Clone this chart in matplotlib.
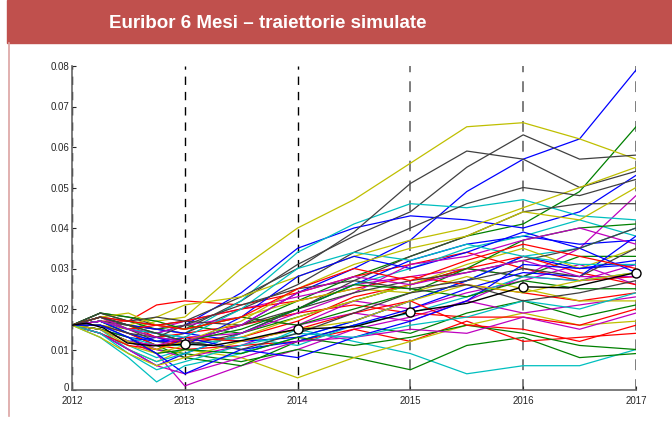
import matplotlib.pyplot as plt
from matplotlib.patches import Rectangle
from matplotlib.lines import Line2D
from matplotlib.transforms import ScaledTranslation

plt.rcParams['font.family'] = ['Liberation Sans', 'DejaVu Sans']

# time grid of the sampled paths (years)
t = [2012, 2012.25, 2012.5, 2012.75, 2013, 2013.5, 2014, 2014.5, 2015, 2015.5, 2016, 2016.5, 2017]

blue_paths = [
    [0.016, 0.015, 0.013, 0.012, 0.012, 0.016, 0.024, 0.030, 0.037, 0.049, 0.057, 0.062, 0.079],
    [0.016, 0.017, 0.015, 0.014, 0.016, 0.024, 0.035, 0.040, 0.043, 0.042, 0.040, 0.044, 0.053],
    [0.016, 0.014, 0.010, 0.006, 0.009, 0.014, 0.020, 0.026, 0.032, 0.036, 0.038, 0.036, 0.037],
    [0.016, 0.018, 0.016, 0.015, 0.014, 0.012, 0.013, 0.017, 0.022, 0.027, 0.033, 0.030, 0.031],
    [0.016, 0.015, 0.012, 0.013, 0.011, 0.018, 0.028, 0.033, 0.030, 0.034, 0.039, 0.035, 0.029],
    [0.016, 0.017, 0.014, 0.012, 0.013, 0.010, 0.012, 0.016, 0.020, 0.025, 0.029, 0.028, 0.038],
    [0.016, 0.016, 0.013, 0.009, 0.004, 0.010, 0.008, 0.013, 0.017, 0.022, 0.031, 0.030, 0.032],
]
green_paths = [
    [0.016, 0.018, 0.015, 0.013, 0.012, 0.016, 0.022, 0.028, 0.033, 0.038, 0.041, 0.049, 0.065],
    [0.016, 0.015, 0.012, 0.010, 0.009, 0.007, 0.010, 0.008, 0.005, 0.011, 0.013, 0.008, 0.009],
    [0.016, 0.019, 0.017, 0.015, 0.016, 0.014, 0.018, 0.022, 0.026, 0.030, 0.028, 0.033, 0.033],
    [0.016, 0.017, 0.014, 0.011, 0.008, 0.006, 0.012, 0.016, 0.014, 0.019, 0.022, 0.018, 0.021],
    [0.016, 0.019, 0.018, 0.017, 0.015, 0.018, 0.016, 0.020, 0.024, 0.030, 0.037, 0.040, 0.041],
    [0.016, 0.015, 0.013, 0.009, 0.010, 0.009, 0.013, 0.011, 0.013, 0.016, 0.014, 0.011, 0.010],
    [0.016, 0.018, 0.016, 0.014, 0.012, 0.015, 0.020, 0.026, 0.025, 0.023, 0.027, 0.025, 0.025],
]
red_paths = [
    [0.016, 0.017, 0.017, 0.021, 0.022, 0.021, 0.024, 0.028, 0.031, 0.034, 0.030, 0.027, 0.028],
    [0.016, 0.015, 0.012, 0.011, 0.010, 0.011, 0.012, 0.015, 0.012, 0.017, 0.012, 0.013, 0.014],
    [0.016, 0.018, 0.016, 0.013, 0.014, 0.016, 0.019, 0.021, 0.019, 0.018, 0.018, 0.016, 0.020],
    [0.016, 0.016, 0.014, 0.011, 0.012, 0.013, 0.017, 0.023, 0.026, 0.030, 0.033, 0.029, 0.026],
    [0.016, 0.017, 0.015, 0.016, 0.017, 0.020, 0.022, 0.025, 0.028, 0.026, 0.024, 0.022, 0.024],
    [0.016, 0.014, 0.011, 0.010, 0.013, 0.012, 0.015, 0.019, 0.022, 0.016, 0.015, 0.012, 0.016],
    [0.016, 0.018, 0.017, 0.016, 0.015, 0.018, 0.025, 0.030, 0.027, 0.032, 0.036, 0.033, 0.030],
]
cyan_paths = [
    [0.016, 0.014, 0.011, 0.008, 0.010, 0.009, 0.015, 0.012, 0.009, 0.004, 0.006, 0.006, 0.010],
    [0.016, 0.017, 0.014, 0.012, 0.014, 0.022, 0.034, 0.041, 0.046, 0.045, 0.047, 0.043, 0.042],
    [0.016, 0.013, 0.008, 0.002, 0.006, 0.009, 0.013, 0.017, 0.022, 0.027, 0.033, 0.035, 0.040],
    [0.016, 0.015, 0.010, 0.007, 0.009, 0.014, 0.020, 0.026, 0.030, 0.035, 0.038, 0.042, 0.038],
    [0.016, 0.016, 0.013, 0.011, 0.011, 0.013, 0.011, 0.016, 0.019, 0.023, 0.028, 0.027, 0.029],
    [0.016, 0.017, 0.015, 0.014, 0.013, 0.020, 0.030, 0.034, 0.032, 0.036, 0.033, 0.031, 0.031],
    [0.016, 0.014, 0.009, 0.005, 0.007, 0.011, 0.014, 0.013, 0.016, 0.018, 0.022, 0.020, 0.024],
]
magenta_paths = [
    [0.016, 0.015, 0.012, 0.009, 0.001, 0.006, 0.010, 0.015, 0.018, 0.022, 0.028, 0.035, 0.048],
    [0.016, 0.017, 0.016, 0.015, 0.017, 0.020, 0.023, 0.026, 0.028, 0.030, 0.028, 0.027, 0.031],
    [0.016, 0.016, 0.013, 0.010, 0.008, 0.011, 0.016, 0.022, 0.020, 0.024, 0.027, 0.031, 0.026],
    [0.016, 0.018, 0.015, 0.014, 0.016, 0.018, 0.016, 0.019, 0.017, 0.022, 0.019, 0.021, 0.023],
    [0.016, 0.015, 0.012, 0.011, 0.013, 0.014, 0.019, 0.024, 0.031, 0.033, 0.037, 0.040, 0.036],
    [0.016, 0.014, 0.010, 0.006, 0.004, 0.008, 0.012, 0.013, 0.015, 0.014, 0.018, 0.015, 0.019],
    [0.016, 0.017, 0.015, 0.013, 0.012, 0.016, 0.024, 0.028, 0.026, 0.029, 0.032, 0.028, 0.028],
]
yellow_paths = [
    [0.016, 0.016, 0.015, 0.017, 0.018, 0.030, 0.040, 0.047, 0.056, 0.065, 0.066, 0.062, 0.057],
    [0.016, 0.014, 0.010, 0.007, 0.010, 0.008, 0.003, 0.008, 0.012, 0.016, 0.019, 0.016, 0.017],
    [0.016, 0.017, 0.016, 0.018, 0.021, 0.023, 0.028, 0.033, 0.037, 0.040, 0.045, 0.050, 0.055],
    [0.016, 0.015, 0.011, 0.009, 0.011, 0.013, 0.018, 0.022, 0.026, 0.031, 0.035, 0.030, 0.035],
    [0.016, 0.018, 0.019, 0.016, 0.015, 0.018, 0.022, 0.025, 0.024, 0.028, 0.025, 0.022, 0.022],
    [0.016, 0.015, 0.012, 0.010, 0.012, 0.017, 0.025, 0.031, 0.035, 0.038, 0.044, 0.042, 0.050],
    [0.016, 0.013, 0.009, 0.006, 0.008, 0.012, 0.015, 0.017, 0.022, 0.026, 0.024, 0.027, 0.029],
]
gray_paths = [
    [0.016, 0.018, 0.017, 0.016, 0.015, 0.022, 0.031, 0.038, 0.044, 0.055, 0.063, 0.057, 0.058],
    [0.016, 0.019, 0.018, 0.016, 0.017, 0.023, 0.030, 0.039, 0.051, 0.059, 0.057, 0.050, 0.054],
    [0.016, 0.017, 0.016, 0.015, 0.014, 0.020, 0.026, 0.034, 0.040, 0.046, 0.050, 0.048, 0.052],
    [0.016, 0.017, 0.015, 0.012, 0.011, 0.014, 0.020, 0.027, 0.033, 0.038, 0.044, 0.046, 0.046],
    [0.016, 0.019, 0.017, 0.018, 0.017, 0.016, 0.020, 0.024, 0.027, 0.029, 0.032, 0.035, 0.040],
    [0.016, 0.016, 0.014, 0.013, 0.016, 0.021, 0.025, 0.027, 0.025, 0.027, 0.030, 0.028, 0.035],
    [0.016, 0.018, 0.016, 0.014, 0.012, 0.010, 0.014, 0.019, 0.024, 0.026, 0.022, 0.024, 0.027],
]

# forward curve and its yearly points
curve_t = [2012, 2012.13, 2012.28, 2012.49, 2012.72, 2013, 2013.25, 2013.52, 2013.76, 2014,
           2014.5, 2015, 2015.5, 2016, 2016.4, 2017]
curve_v = [0.0160, 0.0165, 0.0153, 0.0116, 0.0109, 0.0113, 0.0110, 0.0123, 0.0138, 0.0150,
           0.0156, 0.0193, 0.0214, 0.0255, 0.0252, 0.0290]
year_ticks = [2012, 2013, 2014, 2015, 2016, 2017]
marker_years = [2013, 2014, 2015, 2016, 2017]
marker_vals = [0.0113, 0.0150, 0.0193, 0.0255, 0.0290]
y_ticks = [0, 0.01, 0.02, 0.03, 0.04, 0.05, 0.06, 0.07, 0.08]
y_labels = ['0', '0.01', '0.02', '0.03', '0.04', '0.05', '0.06', '0.07', '0.08']

colors = ['#0000ff', '#008000', '#ff0000', '#00bfbf', '#bf00bf', '#bfbf00', '#404040']
groups = [blue_paths, green_paths, red_paths, cyan_paths, magenta_paths, yellow_paths, gray_paths]

fig = plt.figure(figsize=(6.72, 4.21), dpi=100)

# header banner and page border
fig.patches.append(Rectangle((7 / 672, 1 - 43 / 421), 665 / 672, 43 / 421,
                             transform=fig.transFigure, color='#c0504d', zorder=0))
fig.lines.append(Line2D([8.5 / 672, 8.5 / 672], [1 - 43 / 421, 1 - 416 / 421],
                        transform=fig.transFigure, color='#dca3a2', lw=1.2))
fig.text(268 / 672, 1 - 23 / 421, 'Euribor 6 Mesi \u2013 traiettorie simulate',
         fontweight='bold', fontsize=13.5, color='white', ha='center', va='center')

ax = fig.add_axes([72 / 672, 1 - 390 / 421, 564 / 672, 324 / 421])

for yr in year_ticks:
    c = 'black' if yr < 2015 else '0.45'
    ax.axvline(yr, color=c, lw=1.0 if yr < 2015 else 1.3, ls=(0, (6, 5)), zorder=1)

for i in range(7):
    for g, col in zip(groups, colors):
        ax.plot(t, g[i], color=col, lw=0.9, zorder=2)

ax.plot(curve_t, curve_v, color='black', lw=1.0, zorder=3)
ax.plot(marker_years, marker_vals, 'o', ms=6.5, mfc='white', mec='black', mew=1.0,
        zorder=4, clip_on=False)

ax.set_xlim(2012, 2017)
ax.set_ylim(0, 0.08)
ax.set_xticks(year_ticks)
ax.set_xticklabels([str(y) for y in year_ticks])
ax.set_yticks(y_ticks)
ax.set_yticklabels(y_labels)
ax.tick_params(direction='in', length=3, labelsize=7, colors='#262626', pad=2)
ax.tick_params(axis='x', pad=4)
# lift the "0" label a little so it clears "2012"
zero_lbl = ax.get_yticklabels()[0]
zero_lbl.set_transform(zero_lbl.get_transform() + ScaledTranslation(0, 3 / 100, fig.dpi_scale_trans))
for s in ['top', 'right']:
    ax.spines[s].set_visible(False)
for s in ['left', 'bottom']:
    ax.spines[s].set_color('0.4')
    ax.spines[s].set_linewidth(1.2)

fig.savefig('out.png', dpi=100)
